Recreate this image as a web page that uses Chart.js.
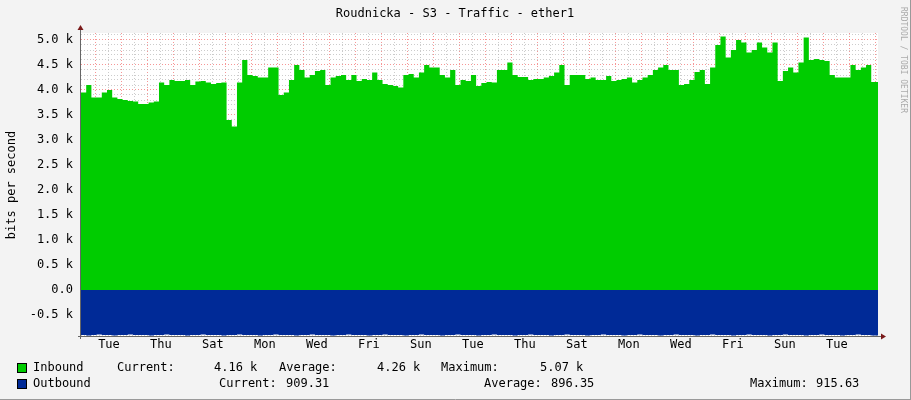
<!DOCTYPE html>
<html><head><meta charset="utf-8">
<script src="https://cdn.jsdelivr.net/npm/chart.js@4"></script>
<style>html,body{margin:0;padding:0;background:#f3f3f3}#w{width:911px;height:400px}</style>
</head><body><div id="w"><canvas id="c"></canvas></div>
<script>
const dayLabels = ["Tue","Thu","Sat","Mon","Wed","Fri","Sun","Tue","Thu","Sat","Mon","Wed","Fri","Sun","Tue"];
const inbound = [3.97,3.95,4.1,3.85,3.85,3.95,4.0,3.85,3.82,3.8,3.78,3.77,3.72,3.72,3.75,3.77,4.15,4.1,4.2,4.18,
4.18,4.2,4.1,4.17,4.18,4.15,4.12,4.14,4.15,3.4,3.27,4.15,4.6,4.3,4.28,4.25,4.25,4.45,4.45,3.9,
3.95,4.2,4.5,4.4,4.25,4.3,4.38,4.4,4.1,4.25,4.28,4.3,4.2,4.3,4.18,4.22,4.2,4.35,4.2,4.12,
4.1,4.08,4.05,4.3,4.32,4.25,4.35,4.5,4.45,4.45,4.3,4.25,4.4,4.1,4.2,4.18,4.3,4.08,4.14,4.16,
4.15,4.4,4.4,4.55,4.3,4.26,4.26,4.2,4.22,4.22,4.25,4.28,4.35,4.5,4.1,4.3,4.3,4.3,4.22,4.25,
4.2,4.2,4.28,4.18,4.2,4.22,4.25,4.15,4.2,4.25,4.3,4.4,4.45,4.5,4.4,4.4,4.1,4.12,4.2,4.36,
4.4,4.12,4.45,4.9,5.07,4.65,4.8,5.0,4.95,4.75,4.8,4.95,4.85,4.75,4.95,4.18,4.38,4.45,4.35,4.55,
5.05,4.6,4.62,4.6,4.58,4.3,4.25,4.25,4.25,4.5,4.4,4.45,4.5,4.16];
const outbound = [-0.9,-0.9,-0.91,-0.9,-0.89,-0.9,-0.9,-0.91,-0.9,-0.9,-0.89,-0.9,-0.9,-0.9,-0.91,-0.9,-0.9,-0.89,-0.9,-0.9,
-0.9,-0.91,-0.9,-0.9,-0.89,-0.9,-0.9,-0.9,-0.91,-0.9,-0.9,-0.89,-0.9,-0.9,-0.9,-0.91,-0.9,-0.9,-0.89,-0.9,
-0.9,-0.9,-0.91,-0.9,-0.9,-0.89,-0.9,-0.9,-0.9,-0.91,-0.9,-0.9,-0.89,-0.9,-0.9,-0.9,-0.91,-0.9,-0.9,-0.89,
-0.9,-0.9,-0.9,-0.91,-0.9,-0.9,-0.89,-0.9,-0.9,-0.9,-0.91,-0.9,-0.9,-0.89,-0.9,-0.9,-0.9,-0.91,-0.9,-0.9,
-0.89,-0.9,-0.9,-0.9,-0.91,-0.9,-0.9,-0.89,-0.9,-0.9,-0.9,-0.91,-0.9,-0.9,-0.89,-0.9,-0.9,-0.9,-0.91,-0.9,
-0.9,-0.89,-0.9,-0.9,-0.9,-0.91,-0.9,-0.9,-0.89,-0.9,-0.9,-0.9,-0.91,-0.9,-0.9,-0.89,-0.9,-0.9,-0.9,-0.91,
-0.9,-0.9,-0.89,-0.9,-0.9,-0.9,-0.91,-0.9,-0.9,-0.89,-0.9,-0.9,-0.9,-0.91,-0.9,-0.9,-0.89,-0.9,-0.9,-0.9,
-0.91,-0.9,-0.9,-0.89,-0.9,-0.9,-0.9,-0.91,-0.9,-0.9,-0.89,-0.9,-0.9,-0.909];
const xMax = 153.3, firstDay = 2.88, yMin = -0.92, yMax = 5.14;
const mk = a => a.map((v,i)=>({x:i,y:v})).concat([{x:xMax,y:a[a.length-1]}]);
const F = "'DejaVu Sans Mono', monospace";
const deco = {
  id:'deco',
  beforeDraw(c){const {ctx,chartArea:a}=c;ctx.save();ctx.fillStyle='#fff';ctx.fillRect(a.left,a.top,a.right-a.left,a.bottom-a.top);ctx.restore();},
  afterDraw(c){
    const {ctx,chartArea:a}=c; ctx.save();
    ctx.fillStyle='#000';ctx.font='12px '+F;ctx.textAlign='center';ctx.textBaseline='middle';
    ctx.fillText('Roudnicka - S3 - Traffic - ether1',455,14);
    ctx.save();ctx.translate(12,185);ctx.rotate(-Math.PI/2);ctx.fillText('bits per second',0,0);ctx.restore();
    ctx.save();ctx.translate(903,60);ctx.rotate(Math.PI/2);ctx.fillStyle='#aaa';ctx.font='8px '+F;ctx.fillText('RRDTOOL / TOBI OETIKER',0,0);ctx.restore();
    ctx.strokeStyle='#666';ctx.lineWidth=1;ctx.beginPath();
    ctx.moveTo(a.left-0.5,a.bottom+3);ctx.lineTo(a.left-0.5,a.top-4);
    ctx.moveTo(a.left-3,a.bottom+0.5);ctx.lineTo(a.right+4,a.bottom+0.5);ctx.stroke();
    ctx.fillStyle='#7a1a1a';ctx.beginPath();ctx.moveTo(a.left-3.5,a.top-3);ctx.lineTo(a.left+2.5,a.top-3);ctx.lineTo(a.left-0.5,a.top-8);ctx.fill();
    ctx.beginPath();ctx.moveTo(a.right+3,a.bottom-2.5);ctx.lineTo(a.right+3,a.bottom+3.5);ctx.lineTo(a.right+8,a.bottom+0.5);ctx.fill();
    ctx.font='12px '+F;ctx.textAlign='left';ctx.fillStyle='#000';
    const sq=(y,col)=>{ctx.fillStyle=col;ctx.fillRect(17,y-5,10,10);ctx.strokeStyle='#000';ctx.strokeRect(17.5,y-4.5,9,9);ctx.fillStyle='#000';};
    sq(368,'#00cc00');sq(384,'#002a97');
    [['Inbound',33],['Current:',117],['4.16 k',214],['Average:',279],['4.26 k',377],['Maximum:',441],['5.07 k',540]].forEach(t=>ctx.fillText(t[0],t[1],368));
    [['Outbound',33],['Current:',219],['909.31',286],['Average:',484],['896.35',551],['Maximum:',750],['915.63',816]].forEach(t=>ctx.fillText(t[0],t[1],384));
    ctx.strokeStyle='#999';ctx.beginPath();ctx.moveTo(0,399.5);ctx.lineTo(911,399.5);ctx.moveTo(910.5,0);ctx.lineTo(910.5,400);ctx.stroke();
    ctx.restore();
  }
};
new Chart(document.getElementById('c'),{
  type:'line',
  data:{datasets:[
    {label:'Inbound',data:mk(inbound),stepped:'after',fill:'origin',backgroundColor:'#00cc00',borderWidth:0,pointRadius:0},
    {label:'Outbound',data:mk(outbound),stepped:'after',fill:'origin',backgroundColor:'#002a97',borderWidth:0,pointRadius:0}
  ]},
  options:{
    responsive:true,maintainAspectRatio:false,animation:false,
    layout:{padding:{left:0,right:33,top:33,bottom:34}},
    plugins:{legend:{display:false},tooltip:{enabled:false}},
    scales:{
      x:{type:'linear',min:0,max:xMax,
        afterBuildTicks(s){const t=[];for(let k=0;firstDay+2.5*k<xMax;k++)t.push({value:firstDay+2.5*k});s.ticks=t;},
        afterFit(s){s.height=30;},
        ticks:{autoSkip:false,maxRotation:0,font:{family:F,size:12},color:'#000',padding:2,
          callback(v,i){return i%4===1?dayLabels[(i-1)/4]||'':'';}},
        grid:{color(c){return c.index%2===0?'rgba(240,80,80,0.6)':'rgba(170,170,170,0.6)';},tickLength:4,drawTicks:false},
        border:{display:false,dash:[1,2]}
      },
      y:{min:yMin,max:yMax,
        afterBuildTicks(s){const t=[];for(let k=-9;k<=51;k++)t.push({value:k/10});s.ticks=t;},
        afterFit(s){s.width=81;},
        ticks:{autoSkip:false,font:{family:F,size:12},color:'#000',padding:8,
          callback(v){const k=Math.round(v*10);if(k%5)return '';if(k===0)return '0.0';return (k/10).toFixed(1)+' k';}},
        grid:{color(c){const k=Math.round(c.tick.value*10);return k%5===0?'rgba(240,80,80,0.6)':'rgba(170,170,170,0.6)';},drawTicks:false},
        border:{display:false,dash:[1,2]}
      }
    }
  },
  plugins:[deco]
});
</script></body></html>
